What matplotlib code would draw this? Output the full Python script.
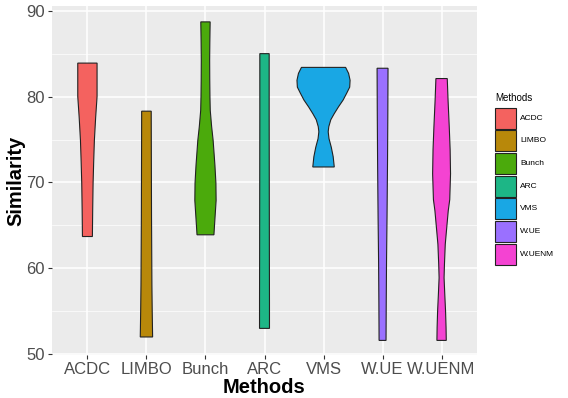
import numpy as np
import matplotlib.pyplot as plt
from matplotlib.patches import Rectangle

# === Datos: perfiles de los violines ===
methods = ['ACDC', 'LIMBO', 'Bunch', 'ARC', 'VMS', 'W.UE', 'W.UENM']
colors = ['#F4625F', '#B8880A', '#4BAA0C', '#1DB686', '#19A7E4', '#9A70FF', '#F443D2']

# niveles de similitud (de arriba hacia abajo) y densidad relativa en cada nivel
acdc_y = [83.9, 80.0, 77.6, 74.9, 72.4, 69.9, 66.8, 63.7]
acdc_d = [9.7, 9.7, 8.3, 7.0, 6.3, 5.7, 5.3, 5.0]

limbo_y = [78.3, 74.0, 70.0, 66.0, 62.0, 58.0, 55.0, 52.0]
limbo_d = [4.8, 4.9, 5.0, 5.1, 5.3, 5.5, 5.8, 6.2]

bunch_y = [88.7, 86.5, 84.3, 82.0, 80.0, 78.4, 76.5, 74.9, 72.0, 69.9, 67.9, 65.2, 63.9]
bunch_d = [4.7, 4.4, 4.2, 4.3, 4.5, 4.8, 6.2, 7.7, 9.5, 10.5, 10.7, 9.2, 8.5]

arc_y = [85.0, 78.0, 70.0, 62.0, 56.0, 53.0]
arc_d = [4.7, 4.7, 4.8, 4.9, 5.0, 5.0]

vms_y = [83.4, 82.7, 81.9, 81.1, 80.4, 79.6, 78.8, 78.0, 77.3, 76.5, 75.9, 75.1, 74.1, 73.0, 71.8]
vms_d = [22.2, 25.2, 26.7, 26.3, 23.3, 19.7, 15.0, 10.7, 7.3, 5.3, 4.7, 5.5, 7.8, 9.7, 10.8]

wue_y = [83.3, 78.0, 72.5, 66.0, 60.9, 56.0, 51.6]
wue_d = [5.5, 5.3, 5.0, 4.5, 4.0, 3.7, 3.5]

wuenm_y = [82.1, 79.6, 76.5, 73.8, 71.0, 68.0, 66.7, 64.5, 62.8, 60.5, 58.9, 57.0, 55.0, 53.1, 51.6]
wuenm_d = [5.7, 6.5, 7.7, 8.6, 9.0, 8.2, 6.7, 5.0, 3.7, 2.9, 2.5, 3.2, 4.0, 4.5, 4.7]

profiles = [(acdc_y, acdc_d), (limbo_y, limbo_d), (bunch_y, bunch_d), (arc_y, arc_d),
            (vms_y, vms_d), (wue_y, wue_d), (wuenm_y, wuenm_d)]

y_ticks = [50, 60, 70, 80, 90]

# === Figura ===
plt.rcParams['font.family'] = ['Liberation Sans', 'DejaVu Sans']
W, H = 568, 398
fig = plt.figure(figsize=(W / 100, H / 100), dpi=100)
ax = fig.add_axes([52 / W, 1 - 355 / H, 425 / W, 349 / H])
ax.set_facecolor('#EBEBEB')

# escala tipo ggplot: el violin mas ancho ocupa 0.9
dmax = max(max(d) for _, d in profiles)
for i, ((ys, ds), col) in enumerate(zip(profiles, colors)):
    ys = np.array(ys)
    hw = np.array(ds) / dmax * 0.45
    xs = np.concatenate([i + 1 - hw, (i + 1 + hw)[::-1]])
    yy = np.concatenate([ys, ys[::-1]])
    ax.fill(xs, yy, facecolor=col, edgecolor='#222222', linewidth=0.8, zorder=3)

ax.set_xlim(0.4, 7.6)
ax.set_ylim(49.9, 90.55)
ax.set_xticks(range(1, len(methods) + 1))
ax.set_xticklabels(methods)
ax.set_yticks(y_ticks)
ax.set_yticks([55, 65, 75, 85], minor=True)

ax.grid(True, which='major', color='white', linewidth=1.1, zorder=0)
ax.grid(True, which='minor', axis='y', color='white', linewidth=0.5, zorder=0)
ax.set_axisbelow(True)
for s in ax.spines.values():
    s.set_visible(False)

ax.tick_params(axis='both', which='major', length=3, width=0.8, color='#333333',
               labelsize=12, labelcolor='#4D4D4D', pad=2)
ax.tick_params(axis='both', which='minor', length=0)

ax.set_xlabel('Methods', fontsize=14.5, fontweight='bold', labelpad=1)
ax.set_ylabel('Similarity', fontsize=14.5, fontweight='bold', labelpad=1)

# leyenda dibujada a mano (cajas grandes como en ggplot)
fig.text(495 / W, 1 - 98 / H, 'Methods', fontsize=7, va='center', ha='left')
key_top, key_step, key_size = 107.5, 22.7, 21
for k, (m, c) in enumerate(zip(methods, colors)):
    y0 = key_top + k * key_step
    fig.add_artist(Rectangle((495 / W, 1 - (y0 + key_size) / H), key_size / W, key_size / H,
                             transform=fig.transFigure, facecolor=c,
                             edgecolor='#222222', linewidth=0.8))
    fig.text(520 / W, 1 - (y0 + key_size / 2) / H, m, fontsize=6, va='center', ha='left')

fig.savefig('out.png', dpi=100)
